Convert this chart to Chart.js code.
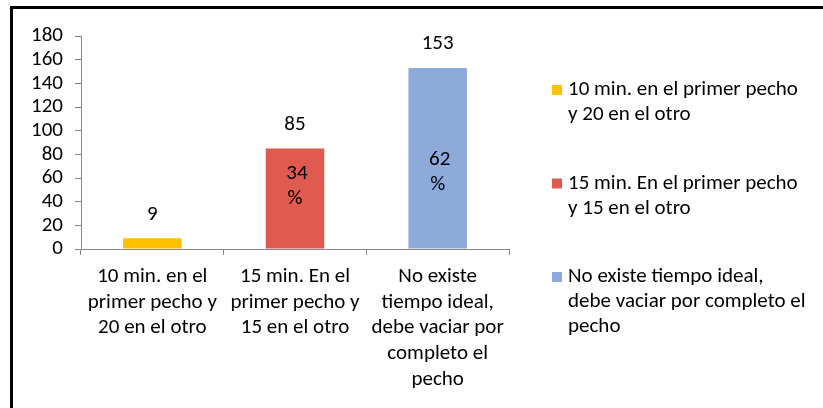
<!DOCTYPE html>
<html>
<head>
<meta charset="utf-8">
<script src="https://cdn.jsdelivr.net/npm/chart.js@4"></script>
<style>
  html, body { margin: 0; padding: 0; background: #fff; overflow: hidden; }
  canvas { display: block; }
</style>
</head>
<body>
<canvas id="c" width="823" height="408"></canvas>
<script>
/* respuestas: tiempo de lactancia por pecho */

const categories = [
  "10 min. en el primer pecho y 20 en el otro",
  "15 min. En el primer pecho y 15 en el otro",
  "No existe tiempo ideal, debe vaciar por completo el pecho",
];
const tickLabels = [
  ["10 min. en el", "primer pecho y", "20 en el otro"],
  ["15 min. En el", "primer pecho y", "15 en el otro"],
  ["No existe", "tiempo ideal,", "debe vaciar por", "completo el", "pecho"],
];
const legendLines = [
  ["10 min. en el primer pecho", "y 20 en el otro"],
  ["15 min. En el primer pecho", "y 15 en el otro"],
  ["No existe tiempo ideal,", "debe vaciar por completo el", "pecho"],
];
const counts = [9, 85, 153];
const percents = ["", "34", "62"];
const colors = ["#FFC000", "#DF5A4F", "#8EAADB"];

const FONT = "Carlito, Calibri, Lato, sans-serif";
const FS = 21;
const AXIS = "#868686";

// marco negro (solo arriba e izquierda quedan dentro de la imagen)
const frame = {
  id: "frame",
  beforeDraw(chart) {
    const { ctx } = chart;
    ctx.save();
    ctx.fillStyle = "#000";
    ctx.fillRect(10, 6, chart.width - 10, 3);
    ctx.fillRect(10, 6, 3, chart.height - 6);
    ctx.restore();
  },
};

// etiquetas de valor encima y porcentaje dentro de cada barra
const barLabels = {
  id: "barLabels",
  afterDatasetsDraw(chart, args, opts) {
    const { ctx } = chart;
    const meta = chart.getDatasetMeta(0);
    ctx.save();
    ctx.font = `${FS}px ${FONT}`;
    ctx.fillStyle = "#000";
    ctx.textAlign = "center";
    ctx.textBaseline = "middle";
    meta.data.forEach((bar, i) => {
      ctx.fillText(String(counts[i]), bar.x, bar.y - 24);
      if (percents[i]) {
        const mid = (bar.y + bar.base) / 2 + opts.pctShift[i];
        ctx.fillText(percents[i], bar.x + 2, mid - 12.5);
        ctx.fillText("%", bar.x, mid + 12.5);
      }
    });
    ctx.restore();
  },
};

// leyenda a la derecha con texto en varias líneas
const sideLegend = {
  id: "sideLegend",
  afterDraw(chart) {
    const { ctx } = chart;
    ctx.save();
    ctx.font = `${FS}px ${FONT}`;
    ctx.textAlign = "left";
    ctx.textBaseline = "middle";
    const tops = [90, 183.5, 277];
    legendLines.forEach((lines, i) => {
      ctx.fillStyle = colors[i];
      ctx.fillRect(552, tops[i] - 5, 10, 10);
      ctx.fillStyle = "#000";
      lines.forEach((ln, j) => ctx.fillText(ln, 568, tops[i] + j * 25));
    });
    ctx.restore();
  },
};

new Chart(document.getElementById("c"), {
  type: "bar",
  data: {
    labels: tickLabels,
    datasets: [
      {
        label: "Respuestas",
        data: counts,
        backgroundColor: colors,
        barPercentage: 0.41,
        categoryPercentage: 1,
      },
    ],
  },
  options: {
    responsive: false,
    animation: false,
    layout: { padding: { top: 36, right: 314, left: 0, bottom: 0 } },
    plugins: {
      legend: { display: false },
      tooltip: { enabled: false },
      barLabels: { pctShift: [0, -12, 14] },
    },
    scales: {
      y: {
        min: 0,
        max: 180,
        ticks: {
          stepSize: 20,
          autoSkip: false,
          color: "#000",
          font: { family: FONT, size: FS },
          padding: 12,
        },
        grid: { drawOnChartArea: false, drawTicks: true, tickLength: 6, color: AXIS },
        border: { color: AXIS, width: 1 },
        afterFit: (s) => { s.width = 81; },
      },
      x: {
        ticks: {
          color: "#000",
          font: { family: FONT, size: FS, lineHeight: 1.22 },
          padding: 9,
          maxRotation: 0,
          autoSkip: false,
        },
        grid: { drawOnChartArea: false, drawTicks: true, tickLength: 6, color: AXIS, offset: true },
        border: { color: AXIS, width: 1 },
        afterFit: (s) => { s.height = 159; },
      },
    },
  },
  plugins: [frame, barLabels, sideLegend],
});
</script>
</body>
</html>
